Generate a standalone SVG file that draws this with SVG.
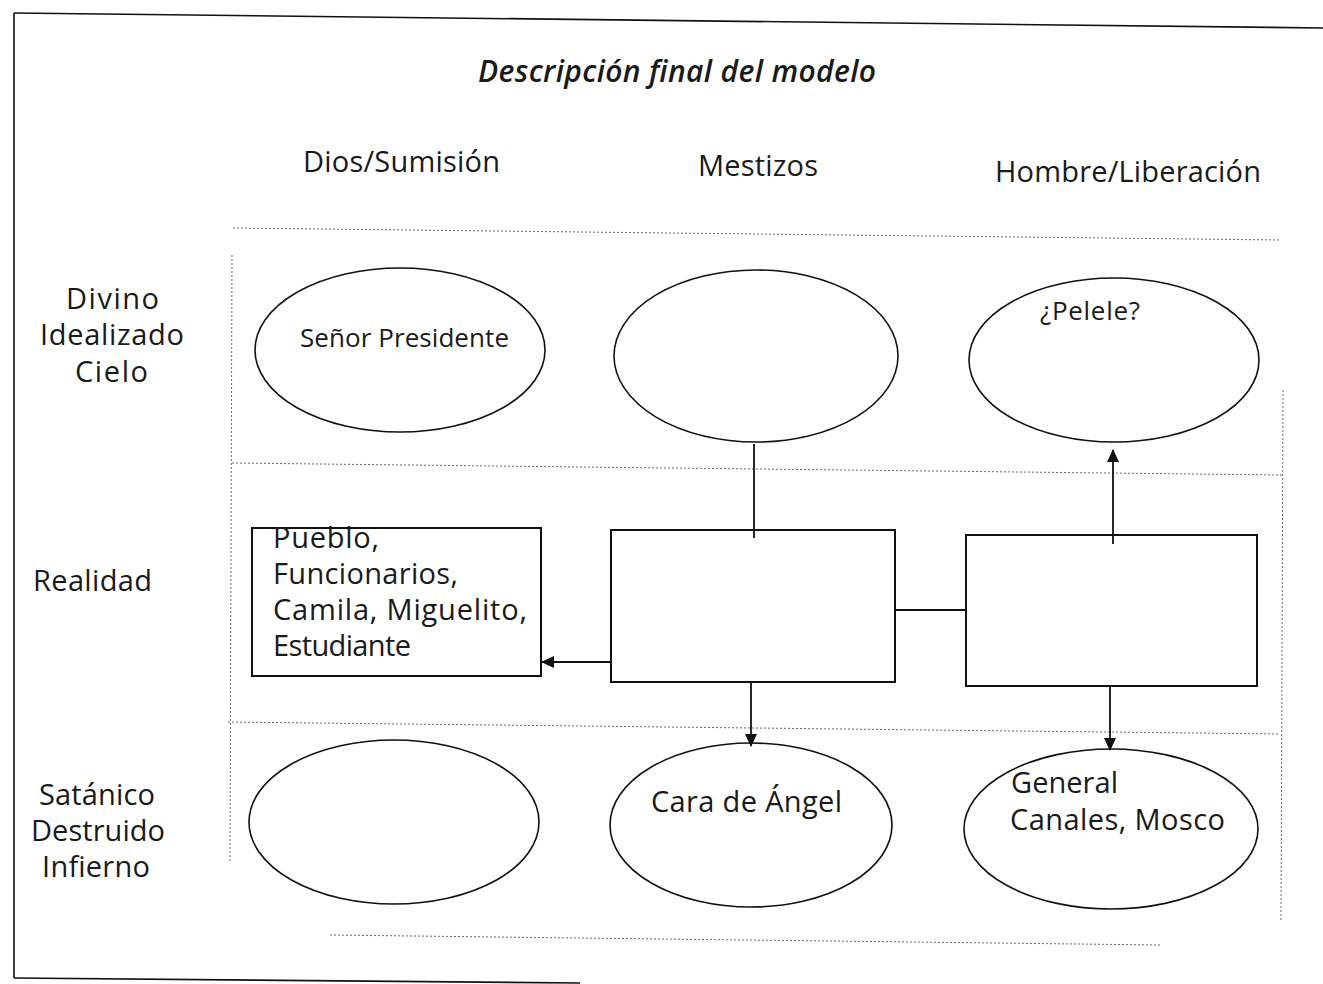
<svg xmlns="http://www.w3.org/2000/svg" width="1323" height="984" viewBox="0 0 1323 984">
  <defs>
    <style>
      .t { font-family: "Open Sans", "DejaVu Sans", sans-serif; fill: #1a1a1a; font-size: 29px; }
      .t.small { font-size: 26px; }
      .title { font-style: italic; font-weight: 600; font-size: 30px; }
      .node { fill: none; stroke: #111; stroke-width: 1.6; }
      .box { fill: none; stroke: #111; stroke-width: 2; }
      .grid { fill: none; stroke: #666; stroke-width: 1; stroke-dasharray: 2 2; }
      .frame { fill: none; stroke: #111; stroke-width: 1.6; }
      .edge { fill: none; stroke: #111; stroke-width: 1.8; }
    </style>
    <marker id="arrow" markerWidth="13" markerHeight="12" refX="12" refY="6" orient="auto" markerUnits="userSpaceOnUse">
      <path d="M0,0 L13,6 L0,12 Z" fill="#111"/>
    </marker>
  </defs>
  <rect width="1323" height="984" fill="#fff"/>

  <!-- outer frame -->
  <g id="frame">
    <line class="frame" x1="14" y1="13" x2="1323" y2="28"/>
    <line class="frame" x1="14" y1="13" x2="14" y2="978"/>
    <line class="frame" x1="14" y1="978" x2="580" y2="983"/>
  </g>

  <!-- table grid -->
  <g id="grid">
    <line class="grid" x1="233" y1="228" x2="1280" y2="240"/>
    <line class="grid" x1="232" y1="463" x2="1282" y2="475"/>
    <line class="grid" x1="228" y1="722" x2="1280" y2="734"/>
    <line class="grid" x1="330" y1="935" x2="1160" y2="945" stroke-dasharray="2 14"/>
    <line class="grid" x1="232" y1="255" x2="230" y2="862"/>
    <line class="grid" x1="1283" y1="390" x2="1281" y2="920"/>
  </g>

  <!-- title and headers -->
  <g id="labels">
    <text class="t title" x="478" y="82" textLength="398" lengthAdjust="spacing">Descripción final del modelo</text>
    <text class="t" x="303" y="172" textLength="197" lengthAdjust="spacing">Dios/Sumisión</text>
    <text class="t" x="698" y="176" textLength="120" lengthAdjust="spacing">Mestizos</text>
    <text class="t" x="995" y="182" textLength="266" lengthAdjust="spacing">Hombre/Liberación</text>
    <text class="t" x="66" y="309" textLength="93" lengthAdjust="spacing">Divino</text>
    <text class="t" x="40" y="345" textLength="144" lengthAdjust="spacing">Idealizado</text>
    <text class="t" x="75" y="382" textLength="73" lengthAdjust="spacing">Cielo</text>
    <text class="t" x="33" y="591" textLength="119" lengthAdjust="spacing">Realidad</text>
    <text class="t" x="39" y="805" textLength="116" lengthAdjust="spacing">Satánico</text>
    <text class="t" x="31" y="841" textLength="134" lengthAdjust="spacing">Destruido</text>
    <text class="t" x="42" y="877" textLength="108" lengthAdjust="spacing">Infierno</text>
  </g>

  <!-- top row -->
  <g id="senor-presidente">
    <ellipse class="node" cx="400" cy="350" rx="145" ry="82"/>
    <text class="t small" x="300" y="347" textLength="209" lengthAdjust="spacing">Señor Presidente</text>
  </g>
  <g id="mestizos-cielo">
    <ellipse class="node" cx="756" cy="356" rx="142" ry="86"/>
  </g>
  <g id="pelele">
    <ellipse class="node" cx="1114" cy="360" rx="145" ry="82"/>
    <text class="t small" x="1040" y="320" textLength="100" lengthAdjust="spacing">¿Pelele?</text>
  </g>

  <!-- reality row -->
  <g id="pueblo">
    <rect class="box" x="252" y="528" width="289" height="148"/>
    <text class="t" x="273" y="548" textLength="106" lengthAdjust="spacing">Pueblo,</text>
    <text class="t" x="273" y="584" textLength="185" lengthAdjust="spacing">Funcionarios,</text>
    <text class="t" x="273" y="620" textLength="254" lengthAdjust="spacing">Camila, Miguelito,</text>
    <text class="t" x="273" y="656" textLength="138" lengthAdjust="spacing">Estudiante</text>
  </g>
  <g id="mestizos-realidad">
    <rect class="box" x="611" y="530" width="284" height="152"/>
  </g>
  <g id="hombre-realidad">
    <rect class="box" x="966" y="535" width="291" height="151"/>
  </g>

  <!-- bottom row -->
  <g id="dios-infierno">
    <ellipse class="node" cx="394" cy="822" rx="145" ry="82"/>
  </g>
  <g id="cara-de-angel">
    <ellipse class="node" cx="751" cy="825" rx="141" ry="82"/>
    <text class="t" x="651" y="812" textLength="191" lengthAdjust="spacing">Cara de Ángel</text>
  </g>
  <g id="general-canales">
    <ellipse class="node" cx="1111" cy="829" rx="147" ry="80"/>
    <text class="t" x="1011" y="793" textLength="107" lengthAdjust="spacing">General</text>
    <text class="t" x="1010" y="830" textLength="215" lengthAdjust="spacing">Canales, Mosco</text>
  </g>

  <!-- connectors -->
  <g id="connectors">
    <line class="edge" x1="754" y1="444" x2="754" y2="538"/>
    <line class="edge" x1="1113" y1="544" x2="1113" y2="450" marker-end="url(#arrow)"/>
    <line class="edge" x1="895" y1="610" x2="966" y2="610"/>
    <line class="edge" x1="611" y1="662" x2="542" y2="662" marker-end="url(#arrow)"/>
    <line class="edge" x1="751" y1="682" x2="751" y2="746" marker-end="url(#arrow)"/>
    <line class="edge" x1="1110" y1="686" x2="1110" y2="750" marker-end="url(#arrow)"/>
  </g>
</svg>
